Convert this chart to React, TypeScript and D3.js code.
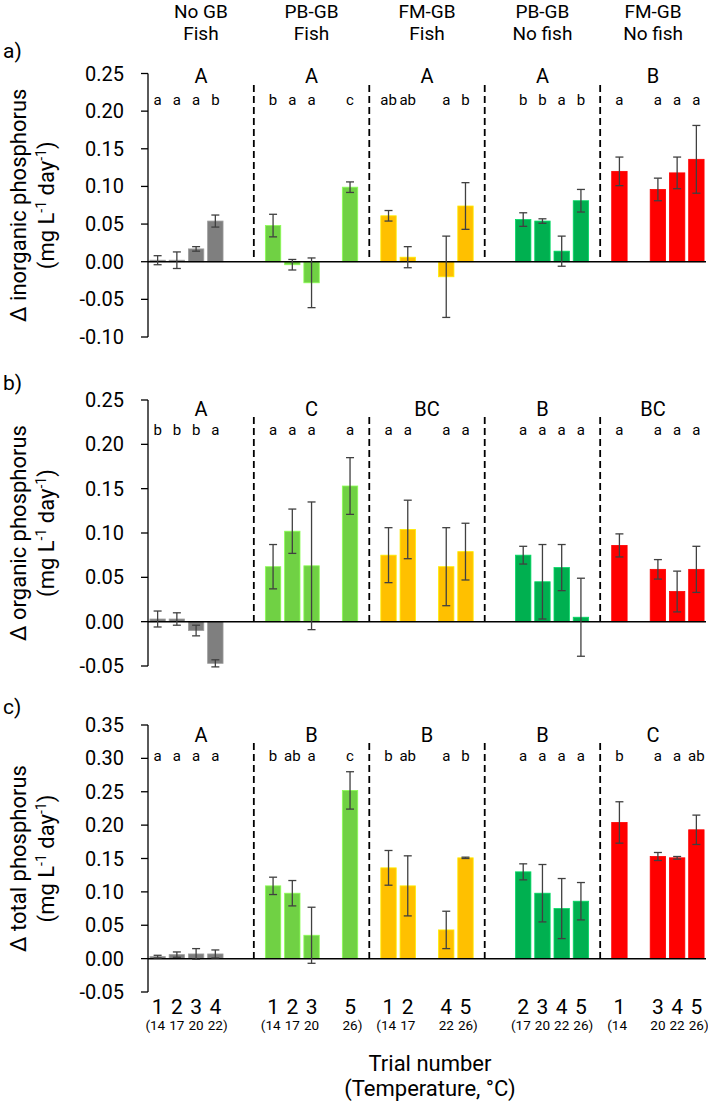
import React from "react";
import * as d3 from "d3";

// ---------- data ----------
const groupLine1 = ["No GB", "PB-GB", "FM-GB", "PB-GB", "FM-GB"];
const groupLine2 = ["Fish", "Fish", "Fish", "No fish", "No fish"];
const groupColors = ["#7f7f7f", "#70d144", "#ffc000", "#00b050", "#ff0000"];
const groupTrials = [[1, 2, 3, 4], [1, 2, 3, 5], [1, 2, 4, 5], [2, 3, 4, 5], [1, 3, 4, 5]];
const trialNumbers = [1, 2, 3, 4, 5];
const trialTemps = [14, 17, 20, 22, 26];

const inorganic = [0.002, 0.002, 0.017, 0.054, 0.048, -0.004, -0.028, 0.099, 0.061, 0.006, -0.020, 0.074, 0.056, 0.054, 0.014, 0.081, 0.120, 0.096, 0.118, 0.136];
const inorganicErr = [0.006, 0.011, 0.003, 0.008, 0.015, 0.007, 0.033, 0.007, 0.007, 0.014, 0.054, 0.031, 0.009, 0.003, 0.020, 0.015, 0.019, 0.015, 0.021, 0.045];
const inorganicLetters = ["a", "a", "a", "b", "b", "a", "a", "c", "ab", "ab", "a", "b", "b", "b", "a", "b", "a", "a", "a", "a"];
const inorganicGroupLetters = ["A", "A", "A", "A", "B"];
const inorganicDomain = [-0.1, 0.25];

const organic = [0.003, 0.003, -0.010, -0.047, 0.062, 0.102, 0.063, 0.153, 0.075, 0.104, 0.062, 0.079, 0.075, 0.045, 0.061, 0.005, 0.086, 0.059, 0.034, 0.059];
const organicErr = [0.009, 0.007, 0.006, 0.004, 0.025, 0.025, 0.072, 0.032, 0.031, 0.033, 0.044, 0.032, 0.010, 0.042, 0.026, 0.044, 0.013, 0.011, 0.023, 0.026];
const organicLetters = ["b", "b", "b", "a", "a", "a", "a", "a", "a", "a", "a", "a", "a", "a", "a", "a", "a", "a", "a", "a"];
const organicGroupLetters = ["A", "C", "BC", "B", "BC"];
const organicDomain = [-0.05, 0.25];

const total = [0.003, 0.006, 0.007, 0.007, 0.109, 0.098, 0.035, 0.252, 0.136, 0.109, 0.043, 0.151, 0.130, 0.098, 0.075, 0.086, 0.204, 0.153, 0.151, 0.193];
const totalErr = [0.002, 0.004, 0.008, 0.006, 0.013, 0.019, 0.042, 0.028, 0.026, 0.045, 0.028, 0.001, 0.012, 0.043, 0.045, 0.028, 0.031, 0.006, 0.002, 0.022];
const totalLetters = ["a", "a", "a", "a", "b", "ab", "a", "c", "b", "ab", "a", "b", "a", "a", "a", "a", "b", "a", "a", "ab"];
const totalGroupLetters = ["A", "B", "B", "B", "C"];
const totalDomain = [-0.05, 0.35];

const panelTags = ["a)", "b)", "c)"];
const panelTitles = ["Δ inorganic phosphorus", "Δ organic phosphorus", "Δ total phosphorus"];
const tickStep = 0.05;

// ---------- layout ----------
const W = 708;
const H = 1105;
const AXIS_X = 148;
const RIGHT_X = 706;
const FONT = "Roboto, 'Liberation Sans', Arial, sans-serif";

const panelLayout = [
  { top: 73.5, bottom: 337, upperY: 76, lowerY: 99, dashTop: 85, tagY: 51 },
  { top: 400, bottom: 666, upperY: 409, lowerY: 429, dashTop: 417, tagY: 383 },
  { top: 725, bottom: 992, upperY: 735, lowerY: 755, dashTop: 743, tagY: 707 },
];

const panelsData = [
  { values: inorganic, errs: inorganicErr, letters: inorganicLetters, groupLetters: inorganicGroupLetters, domain: inorganicDomain },
  { values: organic, errs: organicErr, letters: organicLetters, groupLetters: organicGroupLetters, domain: organicDomain },
  { values: total, errs: totalErr, letters: totalLetters, groupLetters: totalGroupLetters, domain: totalDomain },
];

const fmt = d3.formatLocale({ decimal: ".", thousands: ",", grouping: [3], currency: ["", ""], minus: "-" }).format(".2f");

const slots: string[] = [];
groupTrials.forEach((_, g) => {
  trialNumbers.forEach((t) => slots.push(`g${g}t${t}`));
  if (g < groupTrials.length - 1) slots.push(`sep${g}`);
});

const x = d3.scaleBand<string>().domain(slots).range([AXIS_X, RIGHT_X]).paddingInner(0.2).paddingOuter(0.1);
const bw = x.bandwidth();
const cx = (k: string) => (x(k) as number) + bw / 2;

const items: { g: number; t: number; key: string; i: number }[] = [];
groupTrials.forEach((trials, g) => trials.forEach((t) => items.push({ g, t, key: `g${g}t${t}`, i: items.length })));

const sepX = groupTrials.slice(0, -1).map((_, g) => cx(`sep${g}`));
const bounds = [AXIS_X, ...sepX, RIGHT_X];
const groupCenters = groupTrials.map((_, g) => (bounds[g] + bounds[g + 1]) / 2);

function Panel({ p }: { p: number }) {
  const L = panelLayout[p];
  const D = panelsData[p];
  const y = d3.scaleLinear().domain(D.domain).range([L.bottom, L.top]);
  const ticks = d3.range(D.domain[0], D.domain[1] + 1e-9, tickStep);
  const y0 = y(0);
  const titleCY = (L.top + L.bottom) / 2;
  return (
    <g>
      <text x={3} y={L.tagY + 7} fontSize={21} fontFamily={FONT}>{panelTags[p]}</text>
      {/* axis title */}
      <g transform={`translate(26,${titleCY}) rotate(-90)`}>
        <text textAnchor="middle" fontSize={22} fontFamily={FONT} y={0}>{panelTitles[p]}</text>
      </g>
      <g transform={`translate(54,${titleCY}) rotate(-90)`}>
        <text textAnchor="middle" fontSize={22} fontFamily={FONT} y={0}>
          (mg L<tspan fontSize={14} dy={-8}>-1</tspan><tspan dy={8}> day</tspan><tspan fontSize={14} dy={-8}>-1</tspan><tspan dy={8}>)</tspan>
        </text>
      </g>
      {/* y axis */}
      <line x1={AXIS_X} x2={AXIS_X} y1={y(D.domain[1])} y2={y(D.domain[0])} stroke="#000" strokeWidth={1.3} />
      {ticks.map((t) => (
        <g key={t.toFixed(2)}>
          <line x1={AXIS_X - 7} x2={AXIS_X} y1={y(t)} y2={y(t)} stroke="#000" strokeWidth={1.3} />
          <text x={124} y={y(t) + 7} textAnchor="end" fontSize={20} fontFamily={FONT}>{fmt(t)}</text>
        </g>
      ))}
      {/* dashed separators */}
      {sepX.map((sx, i) => (
        <line key={i} x1={sx} x2={sx} y1={L.dashTop} y2={y0} stroke="#000" strokeWidth={1.8} strokeDasharray="7,4" />
      ))}
      {/* bars */}
      {items.map((it) => {
        const v = D.values[it.i];
        const col = groupColors[it.g];
        return (
          <rect key={it.key} x={x(it.key)} width={bw} y={Math.min(y(v), y0)} height={Math.abs(y(v) - y0)} fill={col}
            stroke={String(d3.color(col)!.brighter(0.6))} strokeWidth={0.8} />
        );
      })}
      {/* zero line */}
      <line x1={AXIS_X} x2={RIGHT_X} y1={y0} y2={y0} stroke="#000" strokeWidth={1.5} />
      {/* error bars */}
      {items.map((it) => {
        const v = D.values[it.i];
        const e = D.errs[it.i];
        const c = cx(it.key);
        const yt = y(v + e);
        const yb = y(v - e);
        return (
          <g key={it.key} stroke="#404040" strokeWidth={1.3}>
            <line x1={c} x2={c} y1={yt} y2={yb} />
            <line x1={c - 4} x2={c + 4} y1={yt} y2={yt} />
            <line x1={c - 4} x2={c + 4} y1={yb} y2={yb} />
          </g>
        );
      })}
      {/* letters */}
      {groupCenters.map((gc, g) => (
        <text key={g} x={gc} y={L.upperY + 7} textAnchor="middle" fontSize={20} fontFamily={FONT}>{D.groupLetters[g]}</text>
      ))}
      {items.map((it) => (
        <text key={it.key} x={cx(it.key)} y={L.lowerY + 6} textAnchor="middle" fontSize={15} fontFamily={FONT}>{D.letters[it.i]}</text>
      ))}
    </g>
  );
}

export default function App() {
  return (
    <svg width={W} height={H} viewBox={`0 0 ${W} ${H}`} style={{ position: "absolute", left: 0, top: 0, display: "block", background: "#fff" }}>
      {/* headers */}
      {groupCenters.map((gc, g) => (
        <g key={g}>
          <text x={gc} y={18} textAnchor="middle" fontSize={19} fontFamily={FONT}>{groupLine1[g]}</text>
          <text x={gc} y={40} textAnchor="middle" fontSize={19} fontFamily={FONT}>{groupLine2[g]}</text>
        </g>
      ))}
      {[0, 1, 2].map((p) => <Panel key={p} p={p} />)}
      {/* x tick labels */}
      {groupTrials.map((trials, g) =>
        trials.map((t, j) => {
          const c = cx(`g${g}t${t}`);
          const temp = String(trialTemps[t - 1]);
          const half = 7.6;
          return (
            <g key={`${g}-${t}`} fontFamily={FONT}>
              <text x={c} y={1014} textAnchor="middle" fontSize={21}>{trialNumbers[t - 1]}</text>
              <text x={c} y={1030} textAnchor="middle" fontSize={13.5}>{temp}</text>
              {j === 0 && <text x={c - half} y={1030} textAnchor="end" fontSize={13.5}>(</text>}
              {j === trials.length - 1 && <text x={c + half} y={1030} textAnchor="start" fontSize={13.5}>)</text>}
            </g>
          );
        })
      )}
      <text x={430} y={1071} textAnchor="middle" fontSize={22} fontFamily={FONT}>Trial number</text>
      <text x={430} y={1096} textAnchor="middle" fontSize={22} fontFamily={FONT}>(Temperature, °C)</text>
    </svg>
  );
}
